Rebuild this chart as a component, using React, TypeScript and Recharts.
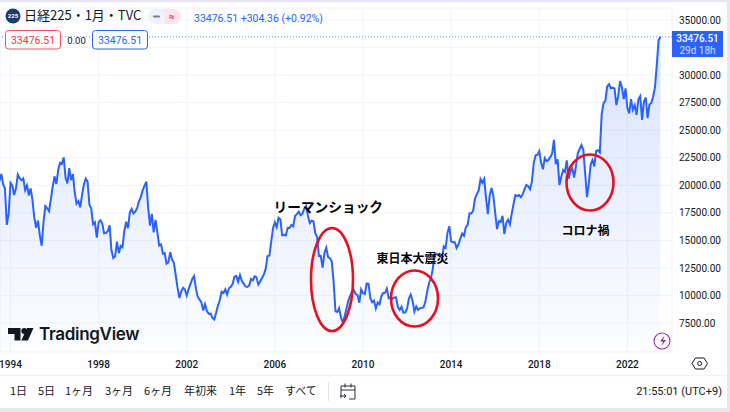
import React from "react";
import {
	ComposedChart,
	Area,
	XAxis,
	YAxis,
	CartesianGrid,
	ReferenceLine,
} from "recharts";

// monthly closes, Jul 1993 onwards
const closes1993 = [20380, 21027, 20105, 19703, 16407, 17417];
const closes1994 = [20229, 19997, 19111, 19725, 20973, 20643, 20448, 20628, 19563, 19990, 19076, 19723];
const closes1995 = [18649, 17053, 16139, 16806, 15437, 14517, 16678, 18117, 17913, 17655, 18744, 19868];
const closes1996 = [20812, 20125, 21406, 22041, 21956, 22530, 20692, 20167, 21556, 20466, 21020, 19361];
const closes1997 = [18330, 18557, 18003, 19151, 20068, 20604, 20331, 18229, 17888, 16458, 16636, 15258];
const closes1998 = [16628, 16831, 16527, 15641, 15670, 15830, 16378, 14107, 13406, 13564, 14883, 13842];
const closes1999 = [14499, 14367, 15836, 16701, 16111, 17529, 17861, 17437, 17605, 17942, 18558, 18934];
const closes2000 = [19539, 19959, 20337, 17973, 16332, 17411, 15727, 16861, 15747, 14539, 14648, 13785];
const closes2001 = [13843, 12883, 12999, 13934, 13262, 12969, 11860, 10713, 9774, 10366, 10697, 10542];
const closes2002 = [9997, 10587, 11024, 11492, 11763, 10621, 9877, 9619, 9383, 8640, 9215, 8578];
const closes2003 = [8339, 8363, 7972, 7831, 8424, 9083, 9563, 10343, 10219, 10559, 10100, 10676];
const closes2004 = [10783, 11041, 11715, 11761, 11236, 11858, 11325, 11081, 10823, 10771, 10899, 11488];
const closes2005 = [11387, 11740, 11668, 11008, 11276, 11584, 11899, 12413, 13574, 13606, 14872, 16111];
const closes2006 = [16649, 16205, 17059, 16906, 15467, 15505, 15456, 16140, 16127, 16399, 16274, 17225];
const closes2007 = [17383, 17604, 17287, 17400, 17875, 18138, 17248, 16569, 16785, 16737, 15680, 15307];
const closes2008 = [13592, 13603, 12525, 13849, 14338, 13481, 13376, 13072, 11259, 8576, 8512, 8859];
const closes2009 = [7994, 7568, 8109, 8828, 9522, 9958, 10356, 10492, 10133, 10034, 9345, 10546];
const closes2010 = [10198, 10126, 11089, 11057, 9768, 9382, 9537, 8824, 9369, 9202, 9937, 10228];
const closes2011 = [10237, 10624, 9755, 9849, 9693, 9816, 9833, 8955, 8700, 8988, 8434, 8455];
const closes2012 = [8802, 9723, 10083, 9520, 8542, 9006, 8695, 8839, 8870, 8928, 9446, 10395];
const closes2013 = [11138, 11559, 12397, 13860, 13774, 13677, 13668, 13388, 14455, 14327, 15661, 16291];
const closes2014 = [14914, 14841, 14827, 14304, 14632, 15162, 15620, 15424, 16173, 16413, 17459, 17450];
const closes2015 = [17674, 18797, 19206, 19520, 20563, 20235, 20585, 18890, 17388, 19083, 19747, 19033];
const closes2016 = [17518, 16026, 16758, 16666, 17234, 15575, 16569, 16887, 16449, 17425, 18308, 19114];
const closes2017 = [19041, 19118, 18909, 19196, 19650, 20033, 19925, 19646, 20356, 22011, 22724, 22764];
const closes2018 = [23098, 22068, 21454, 22467, 22201, 22304, 22553, 22865, 24120, 21920, 22351, 20014];
const closes2019 = [20773, 21385, 21205, 22258, 20601, 21275, 21521, 20704, 21755, 22927, 23293, 23656];
const closes2020 = [23205, 21142, 18917, 20193, 21877, 22288, 21710, 23139, 23185, 22977, 26433, 27444];
const closes2021 = [27663, 28966, 29178, 28812, 28860, 28791, 27283, 28089, 29452, 28892, 27821, 28791];
const closes2022 = [27001, 26526, 27821, 26847, 27279, 26393, 27801, 28091, 25937, 27587, 27968, 26094];
const closes2023 = [27327, 27445, 28041, 28856, 30887, 33172, 33476.51];

const allCloses = [
	closes1993, closes1994, closes1995, closes1996, closes1997, closes1998,
	closes1999, closes2000, closes2001, closes2002, closes2003, closes2004,
	closes2005, closes2006, closes2007, closes2008, closes2009, closes2010,
	closes2011, closes2012, closes2013, closes2014, closes2015, closes2016,
	closes2017, closes2018, closes2019, closes2020, closes2021, closes2022,
	closes2023,
].flat();

const priceTicks = [7500, 10000, 12500, 15000, 17500, 20000, 22500, 25000, 27500, 30000, 32500, 35000];
const hiddenPriceTick = 32500; // sits behind the last price label, grid line only
const yearTicks = [1994, 1998, 2002, 2006, 2010, 2014, 2018, 2022];
const rangeButtons = [
	{ label: "1日", x: 10 },
	{ label: "5日", x: 38 },
	{ label: "1ヶ月", x: 65 },
	{ label: "3ヶ月", x: 105 },
	{ label: "6ヶ月", x: 144 },
	{ label: "年初来", x: 184 },
	{ label: "1年", x: 229 },
	{ label: "5年", x: 257 },
	{ label: "すべて", x: 285 },
];
const lastPrice = "33476.51";

const chartData = allCloses.map((close, bar) => ({ bar, close }));
const barOfYear = (year: number) => (year - 1993) * 12 - 6;

const BLUE = "#2962ff";
const RED = "#e8101e";
const INK = "#131722";
const UI_FONT = "Roboto, 'Noto Sans CJK JP', sans-serif";
const CJK_FONT = "'Noto Sans CJK JP', sans-serif";

const Overlay = () => (
	<svg
		width={730}
		height={412}
		style={{ position: "absolute", left: 0, top: 0, pointerEvents: "none" }}
		fontFamily={UI_FONT}
	>
		{/* page bands */}
		<rect x={0} y={0} width={730} height={2} fill="#e6e8ef" />
		<rect x={0} y={408} width={730} height={4} fill="#e6e8ef" />
		<rect x={727} y={0} width={3} height={412} fill="#e6e8ef" />

		{/* symbol header */}
		<circle cx={13} cy={16} r={7.5} fill="#1b3a6e" />
		<text x={13} y={18} fontSize={6} fontWeight={700} fill="#fff" textAnchor="middle">225</text>
		<text x={24} y={20} fontSize={13} fill={INK} fontFamily={CJK_FONT}>日経225・1月・TVC</text>
		<rect x={148} y={9} width={33} height={15} rx={7.5} fill="#f0f3fa" />
		<path d="M164.5 9h9a7.5 7.5 0 0 1 0 15h-9z" fill="#fce4ec" />
		<rect x={153} y={15.5} width={7} height={2} rx={1} fill="#787b86" />
		<text x={172} y={20} fontSize={10} fontWeight={700} fill="#e91e63" textAnchor="middle">≈</text>
		<text x={194} y={22} fontSize={10.5} fill={BLUE}>{lastPrice}  +304.36 (+0.92%)</text>

		<rect x={5.5} y={30.5} width={55} height={18.5} rx={3} fill="#fff" stroke="#f7525f" />
		<text x={33} y={44} fontSize={10.5} fill="#f23645" textAnchor="middle">{lastPrice}</text>
		<text x={76.5} y={44} fontSize={9.5} fill={INK} textAnchor="middle">0.00</text>
		<rect x={92.5} y={30.5} width={55} height={18.5} rx={3} fill="#fff" stroke={BLUE} />
		<text x={120} y={44} fontSize={10.5} fill={BLUE} textAnchor="middle">{lastPrice}</text>

		{/* last price label */}
		<rect x={672} y={31} width={51} height={26} fill={BLUE} />
		<text x={697.5} y={41.5} fontSize={10} fontWeight={500} fill="#fff" textAnchor="middle">{lastPrice}</text>
		<text x={697.5} y={53.5} fontSize={10} fill="#d6e0ff" textAnchor="middle">29d 18h</text>

		{/* hand drawn notes */}
		<ellipse cx={332} cy={279.5} rx={21} ry={51.5} fill="none" stroke={RED} strokeWidth={2.6} />
		<ellipse cx={414.5} cy={298.5} rx={23.5} ry={28} fill="none" stroke={RED} strokeWidth={2.6} />
		<ellipse cx={590} cy={182.5} rx={23.5} ry={28} fill="none" stroke={RED} strokeWidth={2.6} />
		<text x={273.5} y={212} fontSize={13.7} fontWeight={700} fill="#000" fontFamily={CJK_FONT}>リーマンショック</text>
		<text x={376.5} y={263} fontSize={12} fontWeight={700} fill="#000" fontFamily={CJK_FONT}>東日本大震災</text>
		<text x={561.5} y={235} fontSize={12} fontWeight={700} fill="#000" fontFamily={CJK_FONT}>コロナ禍</text>

		{/* logo */}
		<path d="M8 328h12.5v12.5h-6v-6.5H8z" fill={INK} />
		<circle cx={24.2} cy={331} r={2.9} fill={INK} />
		<path d="M27 328h6.5l-5.6 12.5h-6.6z" fill={INK} />
		<text x={39} y={340} fontSize={17} fontWeight={600} fill={INK} fontFamily="Inter, Roboto, sans-serif" letterSpacing={-0.3}>TradingView</text>

		{/* purple bolt */}
		<circle cx={662} cy={341} r={8} fill="#fff" stroke="#9c27b0" strokeWidth={1.1} />
		<path d="M664.5 335.5l-4.5 6h3l-1.5 4.5 4.5-6h-3z" fill="#9c27b0" />

		{/* axis settings */}
		<path d="M695 358h8.5l3.5 5.5-3.5 5.5H695l-3.5-5.5z" transform="translate(0.5 0)" fill="none" stroke={INK} strokeWidth={1} />
		<circle cx={699.7} cy={363.5} r={2} fill="none" stroke={INK} strokeWidth={1} />

		{/* bottom toolbar */}
		<line x1={0} x2={727} y1={375.5} y2={375.5} stroke="#f0f3fa" strokeWidth={1.5} />
		{rangeButtons.map((b) => (
			<text key={b.label} x={b.x} y={395} fontSize={11} fill={INK} fontFamily={CJK_FONT}>{b.label}</text>
		))}
		<line x1={328.5} x2={328.5} y1={382} y2={401} stroke="#e0e3eb" />
		<path d="M341 398v-12h14v13h-6M341 390h14M345 383.5v4M351 383.5v4M340 396h6m-2-2l2 2-2 2" fill="none" stroke={INK} strokeWidth={0.9} />
		<text x={722} y={395} fontSize={11} fill={INK} textAnchor="end">21:55:01 (UTC+9)</text>
	</svg>
);

export default function App() {
	return (
		<div style={{ position: "absolute", left: 0, top: 0, width: 730, height: 412, background: "#fff", overflow: "hidden" }}>
			<ComposedChart
				width={730}
				height={412}
				data={chartData}
				margin={{ top: 8, right: 0, bottom: 40, left: 0 }}
			>
				<defs>
					<linearGradient id="closeFill" x1="0" y1="0" x2="0" y2="1">
						<stop offset="0%" stopColor={BLUE} stopOpacity={0.3} />
						<stop offset="100%" stopColor={BLUE} stopOpacity={0.02} />
					</linearGradient>
				</defs>
				<CartesianGrid stroke="#f0f3fa" strokeWidth={1} />
				<XAxis
					type="number"
					dataKey="bar"
					domain={[0.3, 366.3]}
					allowDataOverflow
					ticks={yearTicks.map(barOfYear)}
					interval={0}
					tickFormatter={(bar: number) => String(1993 + (bar + 6) / 12)}
					axisLine={false}
					tickLine={false}
					height={20}
					tickMargin={3}
					tick={{ fontSize: 10, fontWeight: 500, fill: INK, fontFamily: UI_FONT }}
				/>
				<YAxis
					orientation="right"
					domain={[4873, 36089]}
					allowDataOverflow
					ticks={priceTicks}
					interval={0}
					axisLine={false}
					tickLine={false}
					width={58}
					tickMargin={1}
					tickFormatter={(v: number) => (v === hiddenPriceTick ? "" : v.toFixed(2))}
					tick={{ fontSize: 10, fill: INK, fontFamily: UI_FONT }}
				/>
				<ReferenceLine y={33476.51} stroke={BLUE} strokeOpacity={0.7} strokeDasharray="1 2" />
				<Area
					type="linear"
					dataKey="close"
					stroke={BLUE}
					strokeWidth={2}
					fill="url(#closeFill)"
					dot={false}
					activeDot={false}
					isAnimationActive={false}
				/>
			</ComposedChart>
			<Overlay />
		</div>
	);
}
